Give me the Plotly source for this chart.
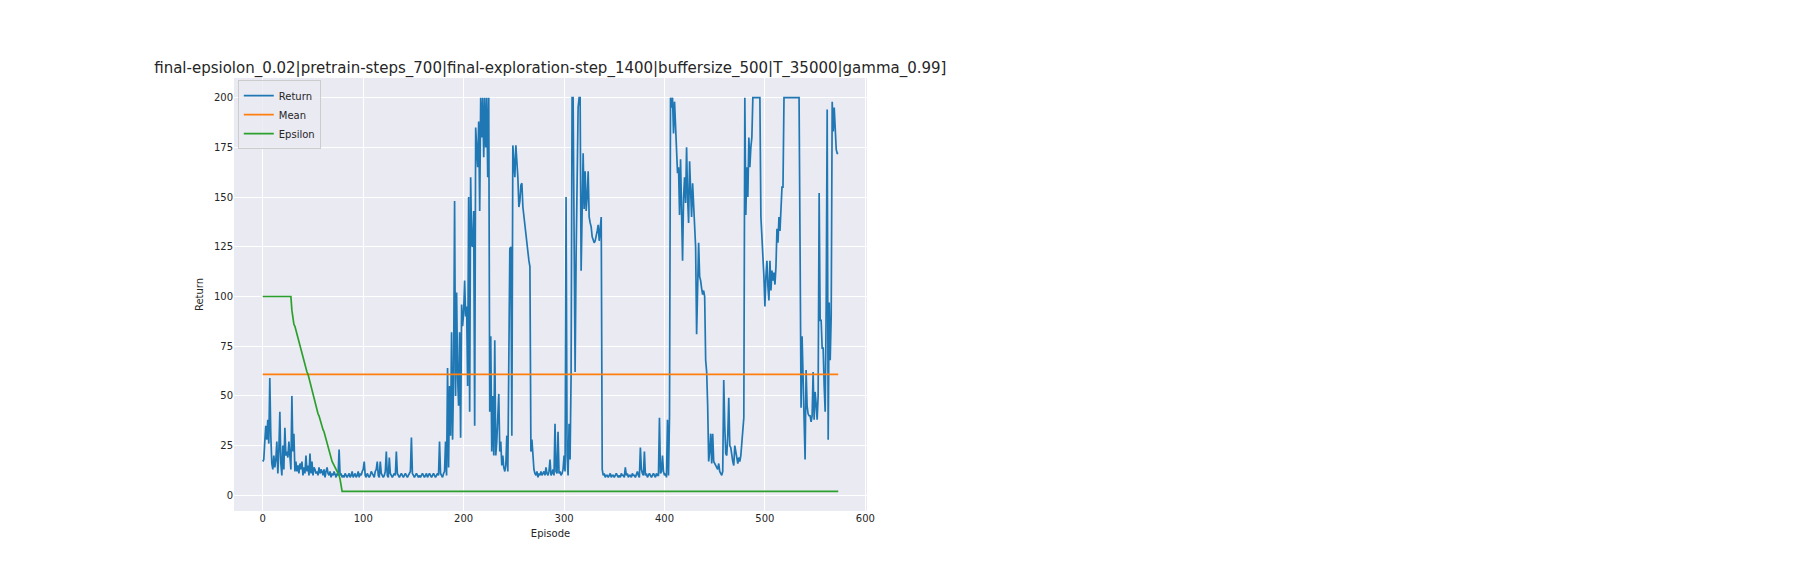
import plotly.graph_objects as go

# returns per episode (episodes 0..573)
returns = [
    17, 18, 27, 35, 28, 38, 26, 59, 30, 16,
    13, 20, 14, 18, 27, 11, 22, 42, 16, 10,
    25, 13, 34, 20, 22, 19, 27, 21, 13, 50,
    22, 31, 12, 17, 12, 15, 11, 16, 13, 17,
    10, 14, 11, 20, 12, 15, 10, 21, 11, 17,
    10, 14, 13, 11, 12, 10, 14, 11, 13, 12,
    10, 13, 9, 12, 14, 11, 10, 12, 9, 11,
    10, 12, 10, 9, 11, 10, 23, 10, 11, 9,
    10, 9, 11, 10, 9, 10, 11, 9, 10, 12,
    9, 10, 11, 9, 10, 12, 9, 11, 10, 12,
    13, 17, 10, 9, 11, 10, 9, 10, 12, 11,
    10, 9, 12, 13, 17, 10, 9, 17, 11, 10,
    9, 10, 12, 22, 10, 9, 19, 11, 10, 9,
    10, 11, 10, 22, 11, 10, 9, 10, 11, 10,
    9, 10, 11, 10, 9, 10, 11, 12, 29, 11,
    10, 9, 10, 11, 10, 9, 10, 9, 10, 11,
    10, 9, 10, 11, 9, 10, 11, 10, 9, 10,
    11, 10, 9, 10, 11, 10, 27, 11, 10, 9,
    11, 12, 27, 10, 64, 14, 55, 30, 82, 28,
    60, 148, 50, 102, 60, 45, 82, 29, 96, 85,
    92, 108, 90, 95, 55, 150, 42, 160, 126, 125,
    143, 35, 185, 175, 165, 188, 143, 200, 180, 200,
    170, 200, 175, 200, 160, 200, 42, 80, 22, 50,
    20, 78, 20, 27, 40, 51, 22, 27, 15, 20,
    14, 12, 15, 30, 12, 60, 124, 125, 30, 176,
    165, 160, 176, 170, 160, 145, 148, 156, 157, 145,
    140, 137, 132, 127, 122, 118, 115, 22, 28, 17,
    13, 11, 10, 12, 9, 11, 10, 12, 10, 11,
    12, 10, 14, 11, 10, 12, 18, 10, 11, 13,
    10, 36, 12, 11, 32, 11, 12, 10, 11, 13,
    20, 12, 150, 20, 10, 36, 18, 60, 200, 200,
    90, 62, 120, 170, 195, 200, 200, 113, 150, 172,
    144, 163, 143, 150, 163, 140, 137, 135, 130, 128,
    127, 128, 130, 133, 136, 128, 134, 140, 13, 10,
    11, 9, 10, 10, 9, 10, 11, 9, 10, 10,
    9, 10, 11, 10, 9, 10, 9, 11, 10, 10,
    9, 14, 10, 11, 9, 10, 10, 9, 11, 10,
    10, 9, 11, 12, 10, 9, 24, 13, 11, 10,
    22, 10, 11, 9, 10, 11, 10, 9, 10, 11,
    10, 9, 11, 10, 10, 39, 11, 12, 20, 12,
    10, 11, 9, 38, 10, 40, 200, 195, 200, 182,
    198, 185, 170, 162, 165, 141, 169, 145, 118, 150,
    160, 147, 175, 150, 137, 168, 150, 140, 157, 145,
    135, 125, 81, 110, 127, 110, 108, 104, 101, 103,
    100, 68, 62, 45, 17, 22, 31, 16, 31, 17,
    16, 15, 14, 13, 16, 12, 11, 10, 12, 58,
    35, 21, 20, 30, 49, 25, 24, 20, 17, 15,
    25, 22, 18, 16, 19, 17, 20, 28, 33, 39,
    200, 141, 165, 150, 180, 165, 175, 180, 200, 200,
    200, 200, 200, 200, 200, 200, 140, 125, 120, 110,
    95, 110, 118, 105, 98, 118, 103, 113, 108, 112,
    106, 115, 134, 127, 140, 133, 145, 155, 155, 200,
    200, 200, 200, 200, 200, 200, 200, 200, 200, 200,
    200, 200, 200, 200, 200, 125, 44, 80, 60, 40,
    18, 63, 45, 41, 40, 40, 37, 40, 62, 38,
    52, 46, 38, 50, 152, 88, 88, 74, 74, 55,
    42, 95, 194, 28, 97, 68, 90, 198, 183, 195,
    180, 174, 172, 172,
]

# epsilon (x100) per episode during the decay, then flat at 2
epsilon_decay = [
    100, 100, 100, 100, 100, 100, 100, 100, 100, 100,
    100, 100, 100, 100, 100, 100, 100, 100, 100, 100,
    100, 100, 100, 100, 100, 100, 100, 100, 100, 93,
    88, 86, 85, 83, 81, 79, 77, 75, 73, 71,
    69, 68, 66, 64, 62, 61, 59, 57, 55, 53,
    50, 48, 47, 45, 43, 41, 40, 38, 36, 35,
    33, 32, 30, 29, 27, 25, 23, 21, 19, 17,
    16, 15, 14, 13, 12, 11, 10, 8, 5,
]
epsilon_final = 2
mean_return = 60.8

episodes = list(range(len(returns)))
epsilon = epsilon_decay + [epsilon_final] * (len(returns) - len(epsilon_decay))
mean = [mean_return] * len(returns)

fig = go.Figure()
fig.add_trace(go.Scatter(x=episodes, y=returns, mode="lines", name="Return",
                         line=dict(color="#1f77b4", width=1.7)))
fig.add_trace(go.Scatter(x=episodes, y=mean, mode="lines", name="Mean",
                         line=dict(color="#ff7f0e", width=1.7)))
fig.add_trace(go.Scatter(x=episodes, y=epsilon, mode="lines", name="Epsilon",
                         line=dict(color="#2ca02c", width=1.7)))

fig.update_layout(
    width=1800, height=576,
    paper_bgcolor="white", plot_bgcolor="#EAEAF2",
    margin=dict(l=226, r=941, t=70, b=73),
    font=dict(family="DejaVu Sans", size=10, color="#262626"),
    title=dict(text="final-epsiolon_0.02|pretrain-steps_700|final-exploration-step_1400|buffersize_500|T_35000|gamma_0.99]",
               x=0.3013, xanchor="center", y=1 - 60 / 576, yanchor="middle",
               font=dict(size=15, color="#262626")),
    showlegend=True,
    legend=dict(x=0.006, y=0.995, xanchor="left", yanchor="top",
                bgcolor="rgba(234,234,242,0.8)", bordercolor="#CCCCCC", borderwidth=1,
                font=dict(size=10)),
)
fig.update_xaxes(range=[-28.65, 601.65], tickvals=[0, 100, 200, 300, 400, 500, 600],
                 showgrid=True, gridcolor="white", gridwidth=1, zeroline=False,
                 title=dict(text="Episode", font=dict(size=10), standoff=6), ticks="")
fig.update_yaxes(range=[-7.9, 209.9], tickvals=[0, 25, 50, 75, 100, 125, 150, 175, 200],
                 showgrid=True, gridcolor="white", gridwidth=1, zeroline=False,
                 title=dict(text="Return", font=dict(size=10), standoff=8), ticks="")

fig.write_html("out.html")
